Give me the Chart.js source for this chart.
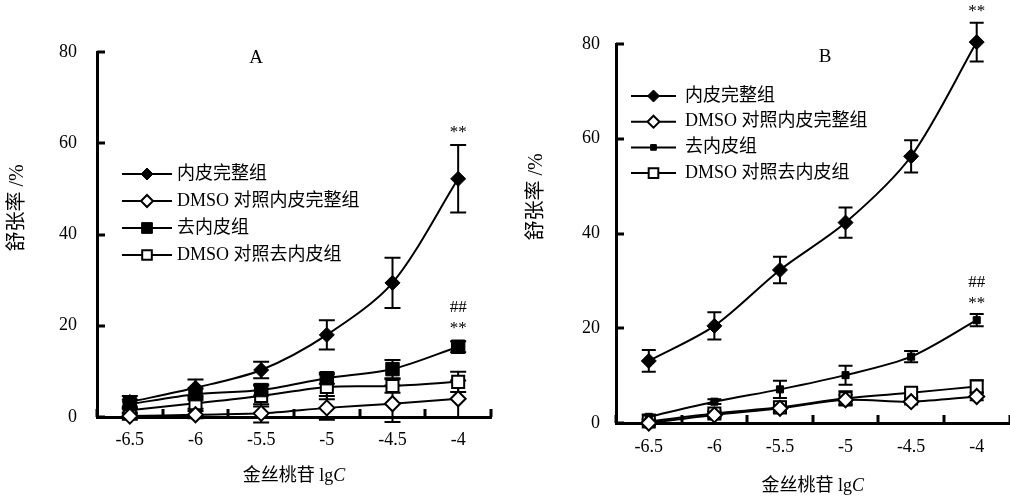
<!DOCTYPE html>
<html>
<head>
<meta charset="utf-8">
<script src="https://cdn.jsdelivr.net/npm/chart.js@4.4.0/dist/chart.umd.min.js"></script>
<style>
html, body { margin: 0; padding: 0; background: #fff; width: 1010px; height: 499px; overflow: hidden; }
canvas { position: absolute; top: 0; }
#chartA { left: 0; }
#chartB { left: 505px; }
</style>
</head>
<body>
<canvas id="chartA" width="505" height="499"></canvas>
<canvas id="chartB" width="515" height="499"></canvas>
<script>
const doses = ["-6.5", "-6", "-5.5", "-5", "-4.5", "-4"];
const yTicks = [0, 20, 40, 60, 80];
const seriesNames = ["内皮完整组", "DMSO 对照内皮完整组", "去内皮组", "DMSO 对照去内皮组"];

// panel A
const aIntact = [3.3, 6.4, 10.3, 18.0, 29.4, 52.2];
const aIntactErr = [1.3, 1.8, 1.8, 3.2, 5.5, 7.4];
const aDmsoIntact = [0.2, 0.5, 0.8, 2.0, 2.9, 4.0];
const aDmsoIntactErr = [0.8, 0.8, 2.0, 2.6, 4.0, 4.0];
const aDenuded = [2.8, 5.0, 5.9, 8.5, 10.5, 15.4];
const aDenudedErr = [1.0, 1.2, 1.2, 1.2, 2.0, 1.2];
const aDmsoDenuded = [1.5, 3.0, 4.6, 6.6, 6.8, 7.7];
const aDmsoDenudedErr = [0.8, 1.2, 2.3, 2.7, 1.5, 2.2];
const aMarks = [
  { series: 0, dose: "-4", text: ["**"] },
  { series: 2, dose: "-4", text: ["**", "##"] }
];

// panel B
const bIntact = [13.1, 20.5, 32.3, 42.3, 56.3, 80.4];
const bIntactErr = [2.3, 2.9, 2.8, 3.2, 3.4, 4.1];
const bDmsoIntact = [0.0, 1.7, 3.1, 4.9, 4.5, 5.6];
const bDmsoIntactErr = [0.5, 0.6, 0.8, 1.0, 0.6, 0.8];
const bDenuded = [1.3, 4.5, 7.1, 10.1, 14.0, 21.7];
const bDenudedErr = [0.5, 0.5, 1.8, 2.0, 1.2, 1.3];
const bDmsoDenuded = [0.3, 2.0, 3.3, 5.2, 6.4, 7.7];
const bDmsoDenudedErr = [0.5, 0.6, 1.2, 1.5, 0.8, 1.3];
const bMarks = [
  { series: 0, dose: "-4", text: ["**"] },
  { series: 2, dose: "-4", text: ["**", "##"] }
];

const SERIF = '"Liberation Serif", "Noto Sans CJK SC", serif';
const TICK_LEN = 8;

// short tick marks pointing into the plot
const innerTicks = {
  id: "innerTicks",
  afterDraw(chart) {
    const ctx = chart.ctx;
    const x = chart.scales.x, y = chart.scales.y;
    const area = chart.chartArea;
    ctx.save();
    ctx.strokeStyle = "#000";
    ctx.lineWidth = 3;
    ctx.beginPath();
    for (let i = 0; i <= doses.length; i++) {
      const px = Math.round(x.getPixelForDecimal(i / doses.length));
      ctx.moveTo(px, area.bottom);
      ctx.lineTo(px, area.bottom - TICK_LEN);
    }
    yTicks.forEach(v => {
      const py = Math.round(y.getPixelForValue(v));
      ctx.moveTo(area.left, py);
      ctx.lineTo(area.left + TICK_LEN, py);
    });
    ctx.stroke();
    ctx.restore();
  }
};

const errorBars = {
  id: "errorBars",
  beforeDatasetsDraw(chart, args, opts) {
    const ctx = chart.ctx;
    const y = chart.scales.y;
    ctx.save();
    ctx.strokeStyle = "#000";
    ctx.lineWidth = 2;
    chart.data.datasets.forEach((ds, i) => {
      chart.getDatasetMeta(i).data.forEach((pt, j) => {
        const e = ds.err[j];
        if (!e) return;
        const top = y.getPixelForValue(ds.data[j] + e);
        const bot = y.getPixelForValue(ds.data[j] - e);
        ctx.beginPath();
        ctx.moveTo(pt.x, top); ctx.lineTo(pt.x, bot);
        ctx.moveTo(pt.x - opts.cap, top); ctx.lineTo(pt.x + opts.cap, top);
        ctx.moveTo(pt.x - opts.cap, bot); ctx.lineTo(pt.x + opts.cap, bot);
        ctx.stroke();
      });
    });
    ctx.restore();
  }
};

const insideLegend = {
  id: "insideLegend",
  afterDraw(chart, args, opts) {
    const ctx = chart.ctx;
    const area = chart.chartArea;
    ctx.save();
    ctx.font = "18px " + SERIF;
    ctx.textBaseline = "middle";
    chart.data.datasets.forEach((ds, i) => {
      const x0 = area.left + opts.x;
      const yy = area.top + opts.y + i * opts.gap;
      ctx.strokeStyle = "#000";
      ctx.lineWidth = 2;
      ctx.beginPath();
      ctx.moveTo(x0, yy);
      ctx.lineTo(x0 + opts.lineLen, yy);
      ctx.stroke();
      ctx.fillStyle = ds.pointBackgroundColor;
      ctx.lineWidth = ds.pointBorderWidth;
      Chart.helpers.drawPoint(ctx, {
        pointStyle: ds.pointStyle,
        radius: ds.pointRadius * 0.8,
        rotation: 0,
        borderWidth: ds.pointBorderWidth
      }, x0 + opts.lineLen / 2, yy);
      ctx.fillStyle = "#000";
      ctx.fillText(ds.label, x0 + opts.lineLen + opts.textGap, yy);
    });
    ctx.restore();
  }
};

const panelText = {
  id: "panelText",
  afterDraw(chart, args, opts) {
    const ctx = chart.ctx;
    const area = chart.chartArea;
    const x = chart.scales.x, y = chart.scales.y;
    ctx.save();
    ctx.fillStyle = "#000";
    ctx.textAlign = "center";
    ctx.textBaseline = "middle";
    ctx.font = "19px " + SERIF;
    ctx.fillText(opts.letter, area.left + opts.letterX, opts.letterY);

    // significance marks above the error bars
    ctx.font = "17px " + SERIF;
    opts.marks.forEach(m => {
      const ds = chart.data.datasets[m.series];
      const j = doses.indexOf(m.dose);
      const px = x.getPixelForValue(j);
      const top = y.getPixelForValue(ds.data[j] + ds.err[j]);
      m.text.forEach((t, k) => ctx.fillText(t, px, top - opts.markGap - k * 21));
    });

    // y title, rotated
    ctx.save();
    ctx.translate(opts.yTitleX, opts.yTitleY);
    ctx.rotate(-Math.PI / 2);
    ctx.font = "20px " + SERIF;
    ctx.fillText("舒张率 /%", 0, 0);
    ctx.restore();

    // x title with italic C
    const plain = "金丝桃苷 lg";
    ctx.font = "18px " + SERIF;
    const w1 = ctx.measureText(plain).width;
    ctx.font = "italic 18px " + SERIF;
    const w2 = ctx.measureText("C").width;
    const cx = (area.left + area.right) / 2 - (w1 + w2) / 2;
    const cy = area.bottom + opts.xTitleDy;
    ctx.textAlign = "left";
    ctx.font = "18px " + SERIF;
    ctx.fillText(plain, cx, cy);
    ctx.font = "italic 18px " + SERIF;
    ctx.fillText("C", cx + w1, cy);
    ctx.restore();
  }
};

function seriesStyle(i, bigSquare) {
  const filled = i % 2 === 0;
  const style = i < 2 ? "rectRot" : "rect";
  let r = i < 2 ? 7.5 : 8.5;
  if (i === 2) r = bigSquare ? 9.5 : 5;
  return {
    pointStyle: style,
    pointRadius: r,
    pointBackgroundColor: filled ? "#000" : "#fff",
    pointBorderColor: "#000",
    pointBorderWidth: filled ? 1 : 2,
    borderColor: "#000",
    borderWidth: 2,
    tension: 0.3,
    clip: false
  };
}

function buildChart(id, values, errs, marks, lay) {
  const datasets = values.map((v, i) => Object.assign({
    label: seriesNames[i],
    data: v,
    err: errs[i]
  }, seriesStyle(i, lay.bigSquare)));

  return new Chart(document.getElementById(id), {
    type: "line",
    data: { labels: doses, datasets: datasets },
    options: {
      responsive: false,
      animation: false,
      devicePixelRatio: 1,
      layout: { padding: { top: lay.top, right: lay.right, left: 0, bottom: 0 } },
      plugins: {
        legend: { display: false },
        tooltip: { enabled: false },
        errorBars: { cap: lay.cap },
        insideLegend: lay.legend,
        panelText: Object.assign({ marks: marks }, lay.text)
      },
      scales: {
        x: {
          type: "category",
          offset: true,
          grid: { display: true, drawOnChartArea: false, drawTicks: false },
          border: { color: "#000", width: 3 },
          ticks: { color: "#000", font: { family: SERIF, size: 18 }, padding: lay.xPad, maxRotation: 0 },
          afterFit(s) { s.height = lay.xH; }
        },
        y: {
          min: yTicks[0],
          max: yTicks[yTicks.length - 1],
          afterBuildTicks(s) { s.ticks = yTicks.map(v => ({ value: v })); },
          grid: { display: true, drawOnChartArea: false, drawTicks: false },
          border: { color: "#000", width: 3 },
          ticks: { color: "#000", font: { family: SERIF, size: 18 }, padding: lay.yPad },
          afterFit(s) { s.width = lay.yW; }
        }
      }
    },
    plugins: [errorBars, innerTicks, insideLegend, panelText]
  });
}

buildChart("chartA",
  [aIntact, aDmsoIntact, aDenuded, aDmsoDenuded],
  [aIntactErr, aDmsoIntactErr, aDenudedErr, aDmsoDenudedErr],
  aMarks,
  {
    top: 52, right: 14, xH: 82, yW: 97, xPad: 12, yPad: 20, cap: 8, bigSquare: true,
    legend: { x: 25, y: 122, gap: 27, lineLen: 50, textGap: 5 },
    text: { letter: "A", letterX: 159, letterY: 58, yTitleX: 18, yTitleY: 208, xTitleDy: 59, markGap: 13 }
  });

buildChart("chartB",
  [bIntact, bDmsoIntact, bDenuded, bDmsoDenuded],
  [bIntactErr, bDmsoIntactErr, bDenudedErr, bDmsoDenudedErr],
  bMarks,
  {
    top: 44, right: 7, xH: 76, yW: 111, xPad: 13, yPad: 16, cap: 7, bigSquare: false,
    legend: { x: 15, y: 52, gap: 25.7, lineLen: 45, textGap: 9 },
    text: { letter: "B", letterX: 209, letterY: 57, yTitleX: 32, yTitleY: 197, xTitleDy: 63, markGap: 11 }
  });
</script>
</body>
</html>
